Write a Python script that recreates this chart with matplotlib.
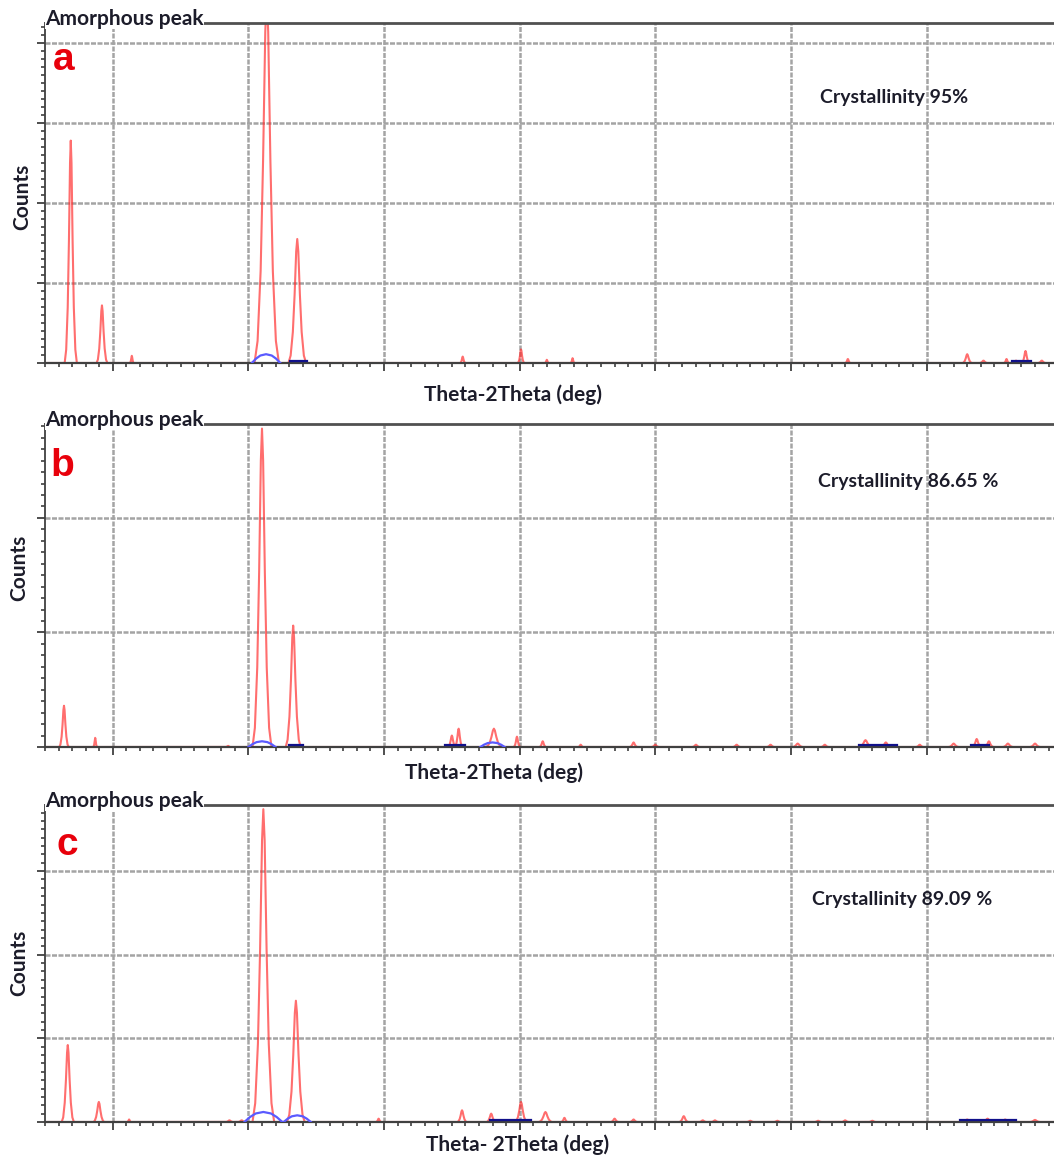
import numpy as np
import matplotlib
matplotlib.use("Agg")
import matplotlib.pyplot as plt
from matplotlib.ticker import MultipleLocator, NullFormatter

plt.rcParams["font.family"] = ["Lato", "DejaVu Sans"]

W, H = 1054, 1159
TWO_THETA_MIN, TWO_THETA_MAX = 5.0, 79.4

# Diffraction peaks per sample: 2theta (deg), counts, half base width (deg)
peak_pos_a = [6.9, 9.2, 11.4, 21.35, 23.6, 35.8, 40.1, 42.0, 43.9, 64.2,
              73.0, 74.2, 75.9, 76.6, 77.3, 78.5]
peak_cnt_a = [2780, 720, 90, 4600, 1550, 80, 170, 40, 60, 50,
              110, 30, 50, 30, 150, 30]
peak_hw_a = [0.45, 0.4, 0.15, 0.9, 0.65, 0.2, 0.25, 0.15, 0.15, 0.2,
             0.35, 0.3, 0.2, 0.2, 0.3, 0.3]

peak_pos_b = [6.4, 8.7, 18.5, 21.0, 23.3, 35.0, 35.5, 38.1, 39.8, 41.7,
              44.5, 48.4, 50.0, 53.0, 56.0, 58.5, 60.5, 62.5, 65.5, 67.0,
              69.5, 72.0, 73.7, 74.6, 76.0, 78.0]
peak_cnt_b = [360, 80, 10, 2780, 1060, 100, 160, 160, 90, 50,
              20, 40, 20, 20, 20, 20, 30, 20, 60, 40,
              20, 30, 70, 50, 30, 30]
peak_hw_b = [0.35, 0.15, 0.2, 0.7, 0.55, 0.3, 0.3, 0.6, 0.25, 0.25,
             0.2, 0.3, 0.3, 0.3, 0.3, 0.3, 0.4, 0.3, 0.5, 0.4,
             0.3, 0.4, 0.35, 0.35, 0.4, 0.4]

peak_pos_c = [6.68, 8.97, 11.2, 18.6, 19.5, 21.1, 23.5, 29.6, 35.75, 37.9,
              40.1, 41.9, 43.3, 47.0, 48.4, 52.1, 53.5, 54.4, 57.0, 59.0,
              62.0, 64.0, 66.0, 73.0, 74.5, 75.8, 78.0]
peak_cnt_c = [920, 240, 30, 20, 20, 3740, 1450, 40, 140, 100,
              240, 120, 50, 40, 30, 70, 20, 20, 15, 15,
              15, 20, 15, 30, 40, 30, 25]
peak_hw_c = [0.45, 0.4, 0.15, 0.3, 0.3, 0.8, 0.65, 0.2, 0.35, 0.35,
             0.45, 0.5, 0.25, 0.3, 0.3, 0.35, 0.3, 0.3, 0.3, 0.3,
             0.3, 0.3, 0.3, 0.4, 0.4, 0.4, 0.4]

# Amorphous halo fit: humps (2theta, counts, half width) and flat segments
amorph_pos_a, amorph_cnt_a, amorph_hw_a = [21.3], [110], [1.05]
amorph_flat_a = [(23.1, 24.3, 20), (76.3, 77.7, 20)]
amorph_pos_b, amorph_cnt_b, amorph_hw_b = [21.0, 38.0], [50, 40], [1.0, 0.9]
amorph_flat_b = [(23.0, 24.0, 20), (34.5, 36.0, 15), (65.0, 67.8, 20), (73.3, 74.6, 15)]
amorph_pos_c, amorph_cnt_c, amorph_hw_c = [21.1, 23.6], [120, 80], [1.4, 1.0]
amorph_flat_c = [(37.8, 40.8, 20), (72.5, 76.6, 20)]

y_top = [4250, 2820, 3790]
crystallinity = ["Crystallinity 95%", "Crystallinity 86.65 %", "Crystallinity 89.09 %"]
x_labels = ["Theta-2Theta (deg)", "Theta-2Theta (deg)", "Theta- 2Theta (deg)"]
panel_tags = ["a", "b", "c"]

PEAK_OFFS = [-1.0, -0.75, -0.5, -0.3, -0.12, 0.0, 0.12, 0.3, 0.5, 0.75, 1.0]
PEAK_LEVELS = [0.0, 0.06, 0.25, 0.55, 0.9, 1.0, 0.9, 0.55, 0.25, 0.06, 0.0]
HALO_OFFS = [-1.0, -0.7, -0.4, 0.0, 0.4, 0.7, 1.0]
HALO_LEVELS = [0.0, 0.5, 0.85, 1.0, 0.85, 0.5, 0.0]


def build_trace(pos, cnt, hw, offs, levels, x0=None, x1=None):
    xs, ys = [], []
    if x0 is not None:
        xs.append(x0)
        ys.append(0)
    for i in np.argsort(pos):
        xs += [pos[i] + o * hw[i] for o in offs]
        ys += [cnt[i] * l for l in levels]
    if x1 is not None:
        xs.append(x1)
        ys.append(0)
    return np.array(xs), np.array(ys)


def px(x, y):
    return x / W, 1 - y / H


fig = plt.figure(figsize=(W / 100, H / 100), dpi=100)

# axes boxes in pixels: (top, bottom)
boxes = [(23, 363), (424, 747), (805, 1122)]
left_px = 45

panels = [
    (peak_pos_a, peak_cnt_a, peak_hw_a, amorph_pos_a, amorph_cnt_a, amorph_hw_a, amorph_flat_a),
    (peak_pos_b, peak_cnt_b, peak_hw_b, amorph_pos_b, amorph_cnt_b, amorph_hw_b, amorph_flat_b),
    (peak_pos_c, peak_cnt_c, peak_hw_c, amorph_pos_c, amorph_cnt_c, amorph_hw_c, amorph_flat_c),
]

text_col = "#1c1c2a"
label_pos = [(513, 395), (494, 773), (518, 1145)]
counts_pos = [(22, 197), (19, 568), (19, 963)]
cryst_pos = [(820, 98), (818, 481), (812, 900)]
tag_pos = [(64, 60), (62, 466), (67, 845)]

for k, (top, bot) in enumerate(boxes):
    ax = fig.add_axes([left_px / W, 1 - bot / H, 1 - left_px / W, (bot - top) / H])
    pp, pc, ph, ap, ac, ah, aflat = panels[k]

    ax.set_xlim(TWO_THETA_MIN, TWO_THETA_MAX)
    ax.set_ylim(0, y_top[k])

    ax.xaxis.set_major_locator(MultipleLocator(10))
    ax.xaxis.set_minor_locator(MultipleLocator(1))
    ax.yaxis.set_major_locator(MultipleLocator(1000))
    ax.yaxis.set_minor_locator(MultipleLocator(100))
    ax.xaxis.set_major_formatter(NullFormatter())
    ax.yaxis.set_major_formatter(NullFormatter())
    ax.tick_params(which="major", direction="out", length=6, width=1.3, color="#404040")
    ax.tick_params(which="minor", direction="out", length=3, width=1.2, color="#404040")
    ax.grid(True, which="major", color="#a4a4a4", linewidth=1.8, linestyle=(0, (2, 0.6)))
    ax.set_axisbelow(True)

    ax.spines["right"].set_visible(False)
    ax.spines["left"].set_color("#404040")
    ax.spines["bottom"].set_color("#404040")
    ax.spines["top"].set_color("#505050")
    ax.spines["top"].set_linewidth(2.0)
    ax.spines["left"].set_linewidth(1.3)
    ax.spines["bottom"].set_linewidth(1.6)

    # measured pattern (kept under the spines so the flat baseline hides)
    tx, ty = build_trace(pp, pc, ph, PEAK_OFFS, PEAK_LEVELS, TWO_THETA_MIN, TWO_THETA_MAX)
    ax.plot(tx, ty, color="#ff3030", alpha=0.7, linewidth=1.5, zorder=2.2)

    # amorphous halo
    hx, hy = build_trace(ap, ac, ah, HALO_OFFS, HALO_LEVELS)
    for i in range(len(ap)):
        seg = slice(i * len(HALO_OFFS), (i + 1) * len(HALO_OFFS))
        ax.plot(hx[seg], hy[seg], color="#5a5aff", linewidth=1.6, zorder=4)
    for x0, x1, lvl in aflat:
        ax.plot([x0, x1], [lvl, lvl], color="#10108a", linewidth=1.6, zorder=4)

    # legend-like caption sitting on the top spine
    ax.annotate("Amorphous peak", xy=(0, 1), xycoords="axes fraction",
                xytext=(0, 3), textcoords="offset points", ha="left", va="center",
                fontsize=15, fontweight="bold", color=text_col, zorder=6,
                bbox=dict(facecolor="white", edgecolor="none", pad=0.3))

    fig.text(*px(*tag_pos[k]), panel_tags[k], ha="center", va="center",
             fontsize=28, fontweight="bold", color="#e8000b",
             family=["Liberation Sans", "DejaVu Sans"])
    fig.text(*px(*cryst_pos[k]), crystallinity[k], ha="left", va="center",
             fontsize=14, fontweight="bold", color=text_col)
    fig.text(*px(*label_pos[k]), x_labels[k], ha="center", va="center",
             fontsize=15, fontweight="bold", color=text_col)
    fig.text(*px(*counts_pos[k]), "Counts", ha="center", va="center", rotation=90,
             fontsize=15, fontweight="bold", color=text_col)

fig.savefig("out.png", dpi=100)
